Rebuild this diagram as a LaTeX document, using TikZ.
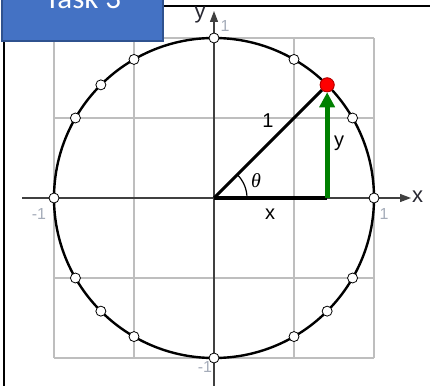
\documentclass[tikz,border=0pt]{standalone}
\usepackage{fontspec}
\setmainfont{Liberation Sans}
\newfontfamily\taskfont{Carlito}
\newfontfamily\thfont{Liberation Serif}
\usetikzlibrary{arrows.meta}
\definecolor{taskblue}{RGB}{68,114,196}
\definecolor{taskedge}{RGB}{47,82,143}
\definecolor{gridgray}{RGB}{190,190,190}
\definecolor{axisgray}{RGB}{64,64,64}
\definecolor{tickgray}{RGB}{165,172,185}
\definecolor{arrowgreen}{RGB}{0,128,0}
\definecolor{lbl}{RGB}{40,40,50}
\begin{document}
\begin{tikzpicture}[x=1pt,y=-1pt,
  gridline/.style={draw=gridgray,line width=1.3pt},
  axisline/.style={draw=axisgray,line width=1.3pt},
  unitcirc/.style={draw=black,line width=2.4pt},
  dot/.style={circle,draw=black,line width=0.8pt,fill=white,minimum size=10pt,inner sep=0pt},
  reddot/.style={circle,draw={rgb,255:red,180;green,0;blue,0},line width=0.8pt,fill=red,minimum size=14pt,inner sep=0pt},
  ticklbl/.style={text=tickgray,font=\fontsize{16}{16}\selectfont,inner sep=0pt},
  axlbl/.style={text=lbl,font=\fontsize{22}{22}\selectfont,inner sep=0pt},
  inlbl/.style={text=black,font=\fontsize{20}{20}\selectfont,inner sep=0pt},
  frameline/.style={draw=black,line width=2pt}]
\useasboundingbox (0,0) rectangle (430,385);
% frame
\draw[frameline] (4,40) -- (4,386);
\draw[frameline] (160,6) -- (431,6);
% grid
\foreach \v in {54,134,214,294,374}{
  \draw[gridline] (\v,38) -- (\v,358);
  \draw[gridline] (54,\v-16) -- (374,\v-16);
}
% axes
\coordinate (xa0) at (22,198);
\coordinate (xa1) at (411,198);
\coordinate (ya0) at (214,386);
\coordinate (ya1) at (214,11);
\draw[axisline,-{Triangle[length=11pt,width=8pt]}] (xa0) -- (xa1);
\draw[axisline,-{Triangle[length=11pt,width=8pt]}] (ya0) -- (ya1);
\node[axlbl,anchor=west] (xl) at (412,197) {x};
\node[axlbl] (yl) at (200,15) {y};
\node[ticklbl] (t1) at (225,26) {1};
\node[ticklbl] (t2) at (384,214) {1};
\node[ticklbl] (t3) at (39,214) {-1};
\node[ticklbl] (t4) at (205,367) {-1};
% circle
\coordinate (O) at (214,198);
\draw[unitcirc] (O) circle[radius=160];
% angle arc
\draw[black,line width=1.2pt] (247,198) arc[start angle=0,end angle=-45,radius=33];
\node[inlbl,font=\thfont\itshape\fontsize{20}{20}\selectfont] (th) at (256,181) {θ};
% x segment, radius, green arrow
\coordinate (F) at (327.14,198);
\node[reddot] (R) at (327.14,84.86) {};
\draw[black,line width=3.6pt] (O) -- (F);
\draw[black,line width=3pt] (O) -- (R);
\draw[arrowgreen,line width=5pt,-{Triangle[length=15pt,width=15pt]}] (F) -- (R.south);
\node[reddot] (R2) at (R) {};
\node[inlbl] (one) at (268,121) {1};
\node[inlbl] (ylab) at (339,143) {y};
\node[inlbl] (xlab) at (270,214) {x};
% dots
\foreach \a in {0,30,60,90,120,135,150,180,210,225,240,270,300,315,330}{
  \node[dot] (p\a) at ({214+160*cos(\a)},{198-160*sin(\a)}) {};
}
% task box
\draw[fill=taskblue,draw=taskedge,line width=1.2pt] (2,-5) rectangle (163,41);
\node[text=white,font=\taskfont\fontsize{31}{31}\selectfont,anchor=base,inner sep=0pt] (task) at (83,9) {Task 3};
\end{tikzpicture}
\end{document}
